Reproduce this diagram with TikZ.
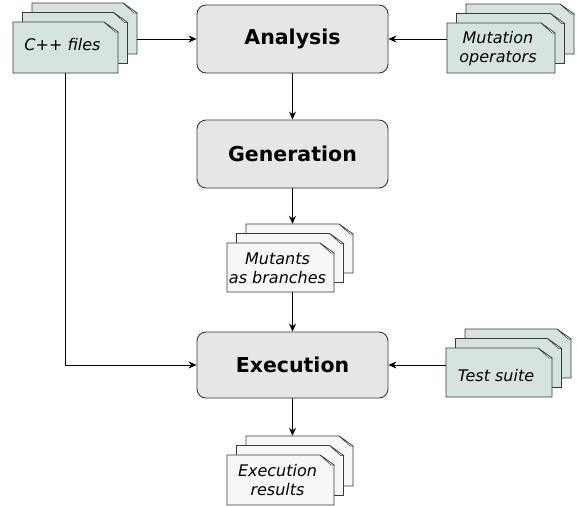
\documentclass[tikz,border=0pt]{standalone}
\usepackage{fontspec}
\setmainfont{DejaVu Sans}
\usetikzlibrary{arrows.meta,calc}
\definecolor{teal}{HTML}{D6E4E1}
\definecolor{boxgray}{HTML}{E6E6E6}
\definecolor{paper}{HTML}{F7F7F7}
\definecolor{edge}{HTML}{3A3A3A}
\tikzset{
  procbox/.style={draw=edge, line width=0.9pt, fill=boxgray, rounded corners=9pt, font=\fontsize{20.5}{24}\selectfont\bfseries, inner sep=0pt},
  doclabel/.style={font=\fontsize{16}{19}\selectfont\itshape, align=center, inner sep=0pt},
  arr/.style={line width=0.9pt, -{Stealth[length=8pt,width=7pt]}},
  sheetline/.style={draw=edge, line width=0.8pt},
}
% \onesheet{x1}{y1}{x2}{y2}{fill}
\newcommand{\onesheet}[5]{%
  \filldraw[sheetline, fill=#5] (#1,#2) -- ({#3-14},#2) -- (#3,{#2+10}) -- (#3,#4) -- (#1,#4) -- cycle;
  \filldraw[draw=edge, line width=0.5pt, fill=white!70!#5] ({#3-14},#2) -- ({#3-3},{#2+10}) -- (#3,{#2+10}) -- cycle;
}
% \docstack{name}{x1}{y1}{x2}{y2}{fill}{text}{textdy}
\newcommand{\docstack}[8]{%
  \onesheet{#2+19}{#3-19}{#4+19}{#5-19}{#6}
  \onesheet{#2+9.5}{#3-9.5}{#4+9.5}{#5-9.5}{#6}
  \onesheet{#2}{#3}{#4}{#5}{#6}
  \node[minimum width={(#4-#2)*1pt}, minimum height={(#5-#3)*1pt}, inner sep=0pt] (#1-f) at ({(#2+#4)/2},{(#3+#5)/2}) {};
  \node[minimum width={(#4-#2)*1pt}, minimum height={(#5-#3)*1pt}, inner sep=0pt] (#1-b) at ({(#2+#4)/2+19},{(#3+#5)/2-19}) {};
  \node[doclabel] (#1-t) at ($(#1-f.center)+(-3,#8)$) {#7};
}
\begin{document}
\begin{tikzpicture}[x=1pt,y=-1pt]
\useasboundingbox (0,0) rectangle (577,506);
\clip (0,0) rectangle (577,506);
% process boxes
\node[procbox, minimum width=191pt, minimum height=68pt] (ana) at (292.5,39) {Analysis};
\node[procbox, minimum width=191pt, minimum height=68pt] (gen) at (292.5,154) {Generation};
\node[procbox, minimum width=191pt, minimum height=66pt] (exe) at (292.5,365) {Execution};
% document stacks
\docstack{cpp}{13}{22}{118}{73}{teal}{C++ files}{-3}
\docstack{mop}{447}{23}{555}{73}{teal}{Mutation\\operators}{1}
\docstack{mut}{227}{243}{334}{292}{paper}{Mutants\\as branches}{1}
\docstack{tst}{446}{348}{552}{397}{teal}{Test suite}{3}
\docstack{res}{227}{455}{334}{505}{paper}{Execution\\results}{0}
% connectors
\draw[arr] (ana.west -| cpp-b.east) -- (ana.west);
\draw[arr] (ana.east -| mop-f.west) -- (ana.east);
\draw[arr] (ana.south) -- (gen.north);
\draw[arr] (gen.south) -- (gen.south |- mut-b.north);
\draw[arr] (exe.north |- mut-f.south) -- (exe.north);
\draw[arr] (cpp-f.south) |- (exe.west);
\draw[arr] (exe.east -| tst-f.west) -- (exe.east);
\draw[arr] (exe.south) -- (exe.south |- res-b.north);
\end{tikzpicture}
\end{document}
